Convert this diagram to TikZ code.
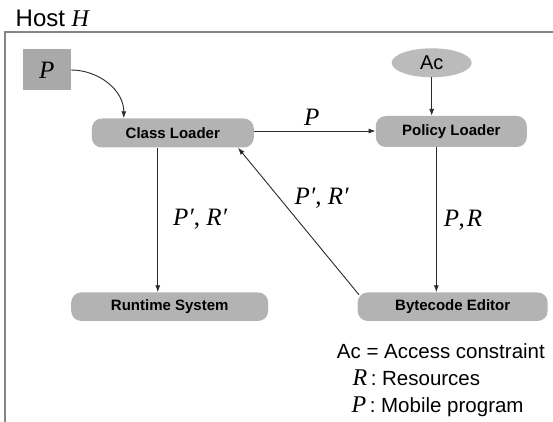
\documentclass[tikz,border=0pt]{standalone}
\usepackage{fontspec}
\setmainfont{Liberation Sans}
\newfontfamily\tim{Liberation Serif}
\usetikzlibrary{arrows.meta,shapes.geometric}
\definecolor{boxgray}{HTML}{B3B3B3}
\definecolor{pgray}{HTML}{A9A9A9}
\definecolor{acgray}{HTML}{BBBBBB}
\definecolor{framegray}{HTML}{858585}
\definecolor{linec}{HTML}{2A2A2A}
\newcommand{\mth}[1]{{\tim\itshape #1}}
\tikzset{
  procbox/.style={draw=none, fill=boxgray, rounded corners=10pt, inner sep=0pt,
    font=\fontsize{15}{18}\selectfont\bfseries},
  conn/.style={draw=linec, line width=0.9pt, -{Latex[length=7pt,width=5pt]}},
  mlabel/.style={inner sep=0pt, font=\fontsize{25}{28}\selectfont, text=black},
  legend/.style={inner sep=0pt, anchor=base west, font=\fontsize{20.5}{24}\selectfont},
}
\begin{document}
\begin{tikzpicture}[x=1pt,y=1pt]
\useasboundingbox (0,0) rectangle (553,-422);
% frame
\draw[framegray, line width=1.6pt] (4.7,-423) -- (4.7,-32.3) -- (554,-32.3);
\node[anchor=base west, inner sep=0pt, font=\fontsize{24}{28}\selectfont] (host) at (15.5,-26.5) {Host \mth{H}};
% nodes
\node[fill=pgray, minimum width=48pt, minimum height=41pt, inner sep=0pt, font=\fontsize{25}{28}\selectfont] (pbox) at (46.7,-70) {\mth{P}};
\node[procbox, minimum width=162pt, minimum height=29pt] (cl) at (172.8,-133) {Class Loader};
\node[procbox, minimum width=151pt, minimum height=31pt] (pl) at (451.3,-131.5) {Policy Loader};
\node[procbox, minimum width=197pt, minimum height=28.5pt] (rs) at (169.7,-306.7) {Runtime System};
\node[procbox, minimum width=190pt, minimum height=28.5pt] (be) at (452.7,-306.7) {Bytecode Editor};
\node[ellipse, fill=acgray, minimum width=80pt, minimum height=29pt, inner sep=0pt, font=\fontsize{20}{24}\selectfont] (ac) at (431.7,-62.8) {Ac};
% connectors
\draw[conn] (pbox.east) to[out=0, in=90] ([xshift=-49pt]cl.north);
\draw[conn] (cl.east |- 0,-131) -- (pl.west |- 0,-131);
\node[mlabel] (lp) at (311.7,-117) {\mth{P}};
\draw[conn] (ac.south) -- (ac.south |- pl.north);
\draw[conn] ([xshift=-15pt]pl.south) -- ([xshift=-15pt]pl.south |- be.north);
\node[mlabel] (lpr) at (463,-220) {\mth{P}\kern-0.5pt\tim,\kern2pt\mth{R}};
\draw[conn] ([xshift=-15pt]cl.south) -- ([xshift=-15pt]cl.south |- rs.north);
\node[mlabel] (lprr1) at (200,-219) {\mth{P′}\tim, \mth{R′}};
\draw[conn] ([xshift=1.5pt,yshift=-2.5pt]be.north west) -- ([xshift=-16pt]cl.south east);
\node[mlabel] (lprr2) at (321.5,-198) {\mth{P′}\tim, \mth{R′}};
% legend
\node[legend] (leg1) at (336.7,-358) {Ac = Access constraint};
\node[legend] (leg2) at (352.5,-385) {\mth{\fontsize{24}{28}\selectfont R}\,: Resources};
\node[legend] (leg3) at (351.5,-412.5) {\mth{\fontsize{24}{28}\selectfont P}\,: Mobile program};
\end{tikzpicture}
\end{document}
